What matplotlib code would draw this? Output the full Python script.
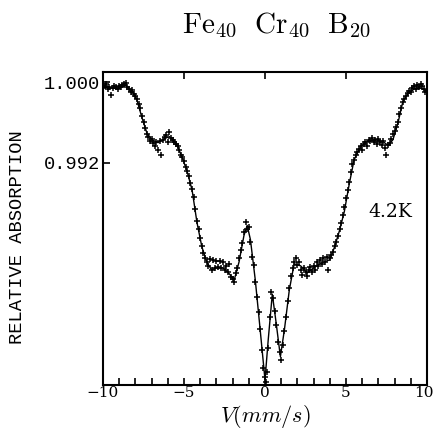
import numpy as np
import matplotlib
matplotlib.use('Agg')
import matplotlib.pyplot as plt
from matplotlib.ticker import MultipleLocator
from matplotlib.transforms import ScaledTranslation

plt.rcParams['mathtext.fontset'] = 'cm'

# measured spectrum (velocity mm/s, relative absorption)
vel = [-9.9, -9.8, -9.7, -9.6, -9.5, -9.4, -9.3, -9.2, -9.1, -9.0,
       -8.9, -8.8, -8.7, -8.6, -8.5, -8.4, -8.3, -8.2, -8.1, -8.0,
       -7.9, -7.8, -7.7, -7.6, -7.5, -7.4, -7.3, -7.2, -7.1, -7.0,
       -6.9, -6.8, -6.7, -6.6, -6.5, -6.4, -6.3, -6.2, -6.1, -6.0,
       -5.9, -5.8, -5.7, -5.6, -5.5, -5.4, -5.3, -5.2, -5.1, -5.0,
       -4.9, -4.8, -4.7, -4.6, -4.5, -4.4, -4.3, -4.2, -4.1, -4.0,
       -3.9, -3.8, -3.7, -3.6, -3.5, -3.4, -3.3, -3.2, -3.1, -3.0,
       -2.9, -2.8, -2.7, -2.6, -2.5, -2.4, -2.3, -2.2, -2.1, -2.0,
       -1.9, -1.8, -1.7, -1.6, -1.5, -1.4, -1.3, -1.2, -1.1, -1.0,
       -0.9, -0.8, -0.7, -0.6, -0.5, -0.4, -0.3, -0.2, -0.1, 0.0,
       0.05, 0.1, 0.2, 0.3, 0.4, 0.5, 0.6, 0.7, 0.8, 0.9,
       1.0, 1.1, 1.2, 1.3, 1.4, 1.5, 1.6, 1.7, 1.8, 1.9,
       2.0, 2.1, 2.2, 2.3, 2.4, 2.5, 2.6, 2.7, 2.8, 2.9,
       3.0, 3.1, 3.2, 3.3, 3.4, 3.5, 3.6, 3.7, 3.8, 3.9,
       4.0, 4.1, 4.2, 4.3, 4.4, 4.5, 4.6, 4.7, 4.8, 4.9,
       5.0, 5.1, 5.2, 5.3, 5.4, 5.5, 5.6, 5.7, 5.8, 5.9,
       6.0, 6.1, 6.2, 6.3, 6.4, 6.5, 6.6, 6.7, 6.8, 6.9,
       7.0, 7.1, 7.2, 7.3, 7.4, 7.5, 7.6, 7.7, 7.8, 7.9,
       8.0, 8.1, 8.2, 8.3, 8.4, 8.5, 8.6, 8.7, 8.8, 8.9,
       9.0, 9.1, 9.2, 9.3, 9.4, 9.5, 9.6, 9.7, 9.8, 9.9]
absorp = [0.9996, 0.9998, 0.9993, 0.9995, 0.9987, 0.9994, 0.9996, 0.9995, 0.9993, 0.9996,
          0.9995, 0.9997, 0.9998, 0.9999, 0.9995, 0.9993, 0.9990, 0.9992, 0.9988, 0.9986,
          0.9983, 0.9978, 0.9974, 0.9966, 0.9960, 0.9955, 0.9949, 0.9946, 0.9942, 0.9944,
          0.9940, 0.9937, 0.9941, 0.9933, 0.9942, 0.9928, 0.9943, 0.9946, 0.9948, 0.9941,
          0.9951, 0.9945, 0.9943, 0.9941, 0.9939, 0.9937, 0.9933, 0.9928, 0.9926, 0.9922,
          0.9916, 0.9912, 0.9907, 0.9900, 0.9894, 0.9886, 0.9874, 0.9862, 0.9854, 0.9846,
          0.9838, 0.9831, 0.9826, 0.9822, 0.9818, 0.9825, 0.9814, 0.9824, 0.9816, 0.9823,
          0.9817, 0.9823, 0.9816, 0.9822, 0.9814, 0.9818, 0.9812, 0.9820, 0.9807, 0.9805,
          0.9802, 0.9811, 0.9816, 0.9826, 0.9834, 0.9841, 0.9852, 0.9861, 0.9854, 0.9856,
          0.9842, 0.9827, 0.9819, 0.9802, 0.9787, 0.9772, 0.9755, 0.9735, 0.9717, 0.9708,
          0.9703, 0.9713, 0.9737, 0.9767, 0.9792, 0.9786, 0.9773, 0.9759, 0.9743, 0.9733,
          0.9725, 0.9740, 0.9753, 0.9767, 0.9783, 0.9796, 0.9808, 0.9816, 0.9822, 0.9826,
          0.9819, 0.9822, 0.9814, 0.9809, 0.9816, 0.9812, 0.9808, 0.9814, 0.9817, 0.9812,
          0.9818, 0.9814, 0.9822, 0.9818, 0.9824, 0.9820, 0.9826, 0.9822, 0.9827, 0.9814,
          0.9826, 0.9829, 0.9832, 0.9838, 0.9842, 0.9848, 0.9854, 0.9860, 0.9868, 0.9876,
          0.9885, 0.9893, 0.9901, 0.9911, 0.9919, 0.9923, 0.9928, 0.9931, 0.9934, 0.9937,
          0.9933, 0.9939, 0.9941, 0.9937, 0.9943, 0.9942, 0.9945, 0.9941, 0.9943, 0.9939,
          0.9944, 0.9941, 0.9938, 0.9942, 0.9935, 0.9928, 0.9938, 0.9940, 0.9944, 0.9949,
          0.9952, 0.9956, 0.9960, 0.9968, 0.9974, 0.9980, 0.9983, 0.9986, 0.9989, 0.9991,
          0.9990, 0.9994, 0.9996, 0.9993, 0.9997, 0.9995, 0.9998, 0.9996, 0.9993, 0.9990]

# fitted curve
fit_v = [-10.0, -9.5, -9.0, -8.6, -8.2, -7.9, -7.6, -7.3, -7.0, -6.6,
         -6.2, -5.9, -5.5, -5.1, -4.8, -4.5, -4.2, -3.9, -3.6, -3.3,
         -3.0, -2.6, -2.2, -1.9, -1.6, -1.3, -1.1, -0.9, -0.6, -0.3,
         0.0, 0.2, 0.45, 0.7, 0.95, 1.2, 1.5, 1.8, 2.2, 2.6,
         3.0, 3.5, 4.0, 4.3, 4.6, 4.9, 5.2, 5.5, 5.9, 6.3,
         6.8, 7.3, 7.6, 7.9, 8.2, 8.5, 8.8, 9.2, 9.6, 10.0]
fit_a = [0.9995, 0.9994, 0.9994, 0.9997, 0.9991, 0.9982, 0.9965, 0.9950, 0.9943, 0.9940,
         0.9944, 0.9946, 0.9940, 0.9925, 0.9911, 0.9893, 0.9861, 0.9837, 0.9822, 0.9814,
         0.9816, 0.9816, 0.9810, 0.9804, 0.9822, 0.9848, 0.9858, 0.9844, 0.9804, 0.9755,
         0.9705, 0.9745, 0.9790, 0.9760, 0.9728, 0.9755, 0.9794, 0.9820, 0.9818, 0.9811,
         0.9816, 0.9821, 0.9824, 0.9837, 0.9853, 0.9872, 0.9899, 0.9923, 0.9936, 0.9941,
         0.9943, 0.9941, 0.9937, 0.9943, 0.9959, 0.9980, 0.9988, 0.9993, 0.9994, 0.9991]

yticks = [1.000, 0.992]
ytick_labels = ['1.000', '0.992']
xticks = [-10, -5, 0, 5, 10]
xtick_labels = ['\u221210', '\u22125', '0', '5', '10']

fig = plt.figure(figsize=(4.35, 4.30), dpi=100)
ax = fig.add_axes([0.2368, 0.1047, 0.7448, 0.7279])

ax.plot(fit_v, fit_a, '-', color='black', lw=1.0)
ax.plot(vel, absorp, '+', color='black', ms=4.5, mew=1.1)

ax.set_xlim(-10, 10)
ax.set_ylim(0.9700, 1.0010)

for s in ax.spines.values():
    s.set_linewidth(1.5)

ax.set_xticks(xticks)
ax.set_xticklabels(xtick_labels, family='DejaVu Serif', fontsize=11)
ax.xaxis.set_minor_locator(MultipleLocator(1))
ax.set_yticks(yticks)
ax.set_yticklabels(ytick_labels, family='Liberation Mono', fontsize=13.5)
ax.tick_params(axis='x', which='both', direction='in', top=True, length=5, width=1.2, pad=1)
ax.tick_params(axis='x', which='minor', top=False)
ax.tick_params(axis='y', which='both', direction='in', right=False, length=5, width=1.2, pad=2)

# nudge the last x label so it stays inside the figure
last = ax.get_xticklabels()[-1]
last.set_transform(last.get_transform() + ScaledTranslation(-3 / 100, 0, fig.dpi_scale_trans))

fig.text(265 / 435, 1 - 422 / 430, r'$V(mm/s)$', fontsize=16, ha='center', va='baseline')
fig.text(18 / 435, 1 - 237 / 430, 'RELATIVE ABSORPTION', family='Liberation Mono',
         fontsize=13.5, rotation=90, ha='center', va='center')

ax.text(7.72, 0.9871, '4.2K', family='DejaVu Serif', fontsize=13.5, ha='center', va='center')

fig.text(277 / 435, 1 - 33 / 430, r'$\mathrm{Fe}_{40}\ \ \mathrm{Cr}_{40}\ \ \mathrm{B}_{20}$',
         fontsize=21, ha='center', va='baseline')

fig.savefig('out.png', dpi=100)
